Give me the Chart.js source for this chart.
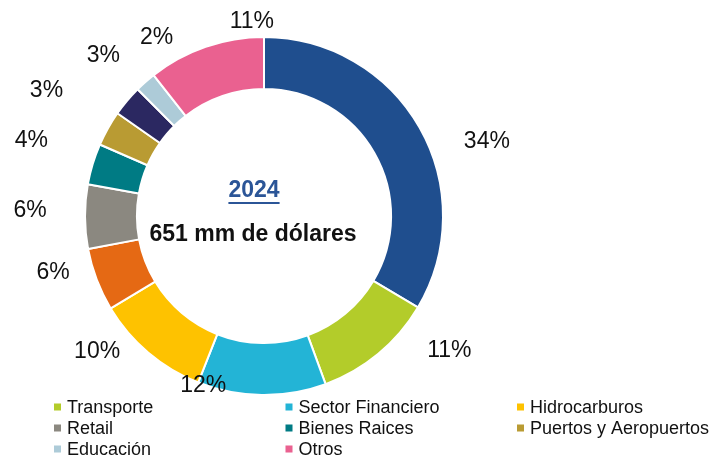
<!DOCTYPE html>
<html>
<head>
  <title>Doughnut 2024</title>
  <script src="https://cdn.jsdelivr.net/npm/chart.js"></script>
  <style>
    body { margin: 0; background: #fff; }
  </style>
</head>
<body>
  <canvas id="chart" width="715" height="457"></canvas>
  <script>
    // Données (part en %), sens horaire depuis le haut
    const categories = ['', 'Transporte', 'Sector Financiero', 'Hidrocarburos', '', 'Retail',
      'Bienes Raices', 'Puertos y Aeropuertos', '', 'Educación', 'Otros'];
    const shares = [33.6, 10.9, 11.6, 10.4, 5.7, 5.8, 3.7, 3.2, 2.8, 1.9, 10.6];
    const colors = ['#1F4E8E', '#B3CC2A', '#23B4D6', '#FEC200', '#E56914', '#8B8880',
      '#007B84', '#B99B33', '#2B2861', '#ADCBD8', '#EA6190'];
    const year = '2024';
    const totalText = '651 mm de dólares';

    const FONT = '"Liberation Sans", Arial, sans-serif';

    // décalages manuels des étiquettes (comme dans l'original)
    const labelNudge = [[36, 32], [48, -31], [-58, -45], [-28, -28], [-10, -20], [-19, -6],
      [-27, -13], [-30, -20], [4, -22], [35, -17], [58, 9]];

    const pctLabels = {
      id: 'pctLabels',
      afterDatasetsDraw(chart) {
        const ctx = chart.ctx;
        const meta = chart.getDatasetMeta(0);
        const data = chart.data.datasets[0].data;
        const total = data.reduce((a, b) => a + b, 0);
        ctx.save();
        ctx.font = '23px ' + FONT;
        ctx.fillStyle = '#111';
        ctx.textAlign = 'center';
        ctx.textBaseline = 'middle';
        meta.data.forEach((arc, i) => {
          const p = arc.getProps(['x', 'y', 'startAngle', 'endAngle', 'outerRadius'], true);
          const mid = (p.startAngle + p.endAngle) / 2;
          const r = p.outerRadius + 36;
          const n = labelNudge[i] || [0, 0];
          const lx = p.x + Math.cos(mid) * r + n[0];
          const ly = p.y + Math.sin(mid) * r + n[1];
          ctx.fillText(Math.round(data[i] / total * 100) + '%', lx, ly);
        });
        ctx.restore();
      }
    };

    const centerText = {
      id: 'centerText',
      afterDraw(chart) {
        const ctx = chart.ctx;
        const arc = chart.getDatasetMeta(0).data[0];
        const cx = arc.x - 10, cy = arc.y;
        ctx.save();
        ctx.textAlign = 'center';
        ctx.textBaseline = 'middle';
        ctx.font = 'bold 23px ' + FONT;
        ctx.fillStyle = '#2B5597';
        ctx.fillText(year, cx, cy - 25);
        const w = ctx.measureText(year).width;
        ctx.fillRect(cx - w / 2, cy - 14, w, 2);
        ctx.fillStyle = '#111';
        ctx.fillText(totalText, cx - 1, cy + 19);
        ctx.restore();
      }
    };

    const gridLegend = {
      id: 'gridLegend',
      afterDraw(chart) {
        const ctx = chart.ctx;
        const labels = chart.data.labels;
        const bg = chart.data.datasets[0].backgroundColor;
        ctx.save();
        ctx.font = '18px ' + FONT;
        ctx.textBaseline = 'middle';
        ctx.textAlign = 'left';
        let k = 0;
        labels.forEach((lab, i) => {
          if (!lab) return;
          const col = k % 3, row = Math.floor(k / 3);
          const x = 54 + col * 231.5;
          const y = 407 + row * 21;
          ctx.fillStyle = bg[i];
          ctx.fillRect(x, y - 3.5, 7, 7);
          ctx.fillStyle = '#111';
          ctx.fillText(lab, x + 13, y + 1);
          k++;
        });
        ctx.restore();
      }
    };

    const ctx = document.getElementById('chart').getContext('2d');
    const chart = new Chart(ctx, {
      type: 'doughnut',
      data: {
        labels: categories,
        datasets: [{
          data: shares,
          backgroundColor: colors,
          borderColor: '#fff',
          borderWidth: 2
        }]
      },
      options: {
        responsive: false,
        animation: false,
        cutout: '71%',
        layout: { padding: { top: 36, bottom: 61, left: 84, right: 271 } },
        plugins: {
          legend: { display: false },
          tooltip: { enabled: false }
        }
      },
      plugins: [pctLabels, centerText, gridLegend]
    });
  </script>
</body>
</html>
